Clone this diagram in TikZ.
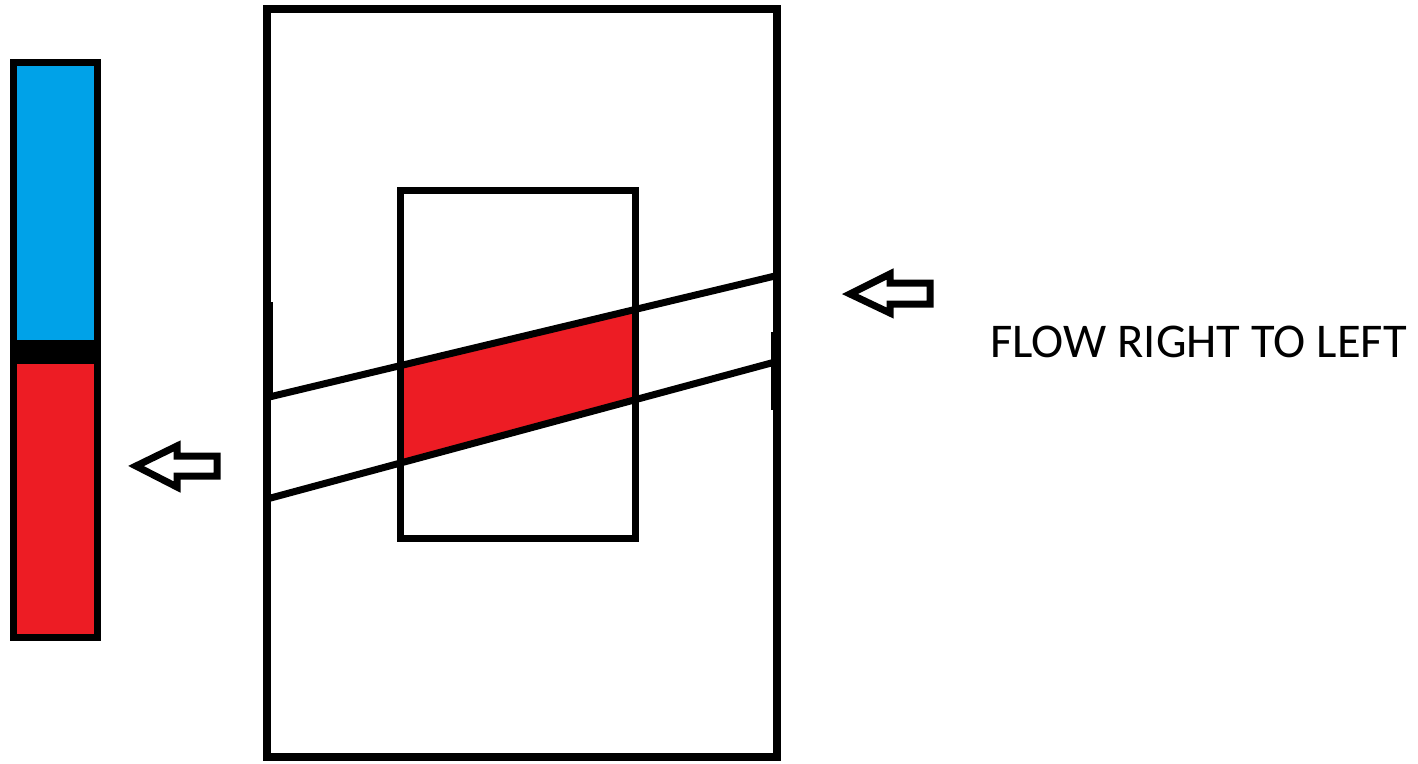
\documentclass[tikz,border=0pt]{standalone}
\usepackage{fontspec}
\setmainfont{Carlito}
\usepackage{xcolor}
\usepackage{tikz}
\usetikzlibrary{positioning}

\definecolor{paintblue}{RGB}{0,162,232}
\definecolor{paintred}{RGB}{237,28,36}

\begin{document}
\begin{tikzpicture}[
    x=1pt, y=-1pt,
    wall/.style={draw=black, line width=8pt},
    pipe/.style={draw=black, line width=7pt},
    flowarrow/.style={draw=black, line width=7pt, line join=miter, fill=white},
    label/.style={anchor=base west, inner sep=0pt, font=\fontsize{48.5}{58}\selectfont}
]
\useasboundingbox (0,0) rectangle (1418,763);

% column on the left
\fill[paintblue] (13,62) rectangle (97,340);
\fill[black] (13,340) rectangle (97,364);
\fill[paintred] (13,364) rectangle (97,637);
\draw[line width=7pt] (13,62) rectangle (97,637);

% band through the vessel
\coordinate (upL) at (265,398);
\coordinate (upR) at (775,276);
\coordinate (loL) at (267,499);
\coordinate (loR) at (775,362);

\begin{scope}
    \clip (400,190) rectangle (635,538);
    \fill[paintred] (upL) -- (upR) -- (loR) -- (loL) -- cycle;
\end{scope}

% outer and inner vessel
\draw[wall] (267,9) rectangle (777,757);
\draw[pipe] (400,190) rectangle (635,538);
\draw[pipe, line width=6pt] (270,302) -- (270,398);
\draw[pipe, line width=6pt] (774,332) -- (774,410);

\draw[pipe] (upL) -- (upR);
\draw[pipe] (loL) -- (loR);

% arrows
\draw[flowarrow] (850,294) -- (890,274) -- (890,283) -- (930,283) -- (930,304) -- (890,304) -- (890,313) -- cycle;
\draw[flowarrow] (136,466) -- (177,446) -- (177,456) -- (217,456) -- (217,476) -- (177,476) -- (177,487) -- cycle;

\node[label] (flowtext) at (990,357) {FLOW RIGHT TO LEFT};

\end{tikzpicture}
\end{document}
